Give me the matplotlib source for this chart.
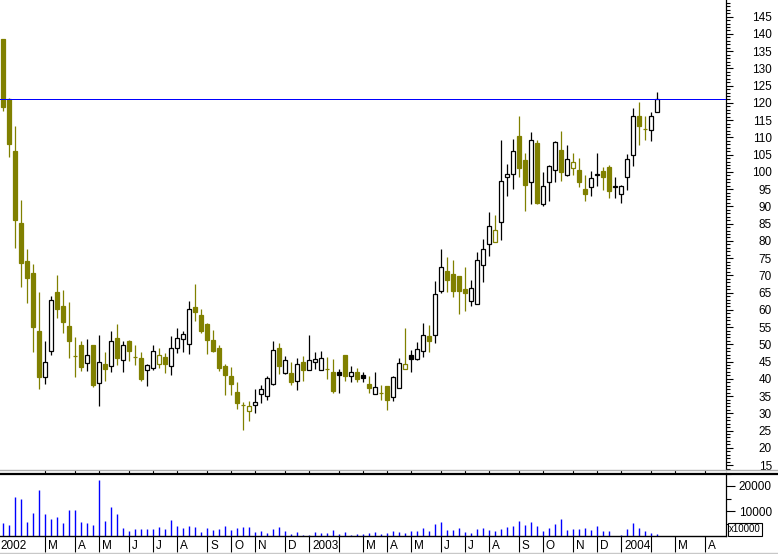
import numpy as np
import matplotlib
matplotlib.use("Agg")
import matplotlib.pyplot as plt
from matplotlib.patches import Rectangle
from matplotlib.lines import Line2D
from matplotlib.ticker import MultipleLocator, FixedLocator
import matplotlib.transforms as mtransforms

plt.rcParams['font.family'] = ['Liberation Sans', 'DejaVu Sans']

#### weekly bars ####
opens = [138.5, 121.1, 106.1, 85.2, 74.2, 70.7, 53.9, 40.6, 48.2, 65.2,
         61.1, 55.3, 46.7, 49.8, 44.5, 49.8, 38.7, 44.3, 43.8, 51.8,
         45.4, 51.0, 46.2, 46.0, 42.6, 43.1, 44.2, 46.3, 43.8, 48.9,
         51.5, 50.0, 60.8, 58.5, 55.9, 51.3, 48.9, 43.7, 40.8, 36.2,
         32.3, 30.6, 32.3, 35.5, 35.1, 38.4, 49.0, 41.6, 41.6, 39.3,
         44.8, 42.5, 44.8, 42.5, 42.8, 42.1, 42.1, 46.8, 40.7, 42.1,
         41.0, 38.5, 35.5, 35.8, 37.9, 34.7, 37.3, 42.8, 46.8, 45.8,
         48.0, 52.4, 52.6, 65.6, 71.3, 70.4, 69.8, 66.1, 62.7, 61.6,
         72.9, 79.0, 79.6, 85.4, 98.4, 99.3, 110.4, 103.5, 97.0, 108.4,
         90.6, 97.0, 100.5, 106.4, 99.0, 101.0, 100.6, 95.0, 95.5, 99.2,
         100.3, 101.3, 95.7, 93.5, 98.4, 104.8, 116.1, 112.5, 112.2, 117.5]
highs = [138.5, 121.5, 113.3, 91.9, 77.6, 73.3, 65.2, 51.1, 64.0, 70.1,
         65.8, 62.3, 52.2, 51.1, 51.6, 49.8, 52.7, 47.8, 53.9, 55.9,
         51.0, 51.2, 49.8, 47.8, 44.3, 49.8, 48.9, 47.4, 52.4, 54.7,
         53.9, 62.6, 67.5, 60.3, 56.3, 54.2, 49.8, 44.3, 43.3, 39.0,
         33.4, 33.6, 37.1, 38.2, 40.8, 51.0, 50.4, 46.5, 44.8, 46.0,
         46.6, 52.7, 47.7, 48.1, 46.3, 45.7, 42.9, 46.8, 43.6, 43.1,
         42.1, 40.8, 42.1, 38.2, 37.9, 40.8, 46.0, 54.7, 48.4, 50.6,
         56.2, 55.6, 68.4, 77.6, 75.3, 74.5, 69.8, 72.4, 68.7, 76.7,
         80.5, 88.3, 87.5, 109.3, 102.3, 109.5, 116.2, 105.5, 111.5, 109.3,
         100.0, 102.1, 109.1, 111.9, 107.8, 105.5, 103.9, 99.1, 100.3, 105.4,
         101.3, 102.0, 98.4, 96.1, 105.3, 118.6, 120.3, 116.2, 117.3, 123.2]
lows = [117.7, 104.4, 78.0, 66.7, 62.1, 47.9, 37.1, 38.5, 47.0, 57.7,
        53.4, 46.1, 40.6, 42.4, 42.4, 37.7, 32.2, 39.5, 42.1, 44.1,
        42.1, 45.3, 44.1, 39.5, 38.0, 42.6, 43.1, 41.8, 41.1, 47.6,
        47.9, 47.1, 56.9, 53.2, 47.1, 47.9, 42.4, 35.4, 35.4, 31.2,
        25.2, 27.9, 30.2, 33.1, 34.0, 38.2, 41.3, 41.3, 38.2, 36.7,
        39.3, 42.5, 42.8, 42.5, 40.0, 36.0, 36.0, 39.5, 39.2, 39.2,
        39.2, 36.0, 35.5, 34.0, 31.0, 33.7, 37.3, 42.8, 41.9, 45.6,
        46.3, 47.7, 50.3, 64.8, 65.3, 63.8, 58.8, 59.8, 61.2, 61.6,
        68.0, 75.7, 79.6, 80.3, 93.0, 95.1, 98.6, 88.8, 90.6, 90.6,
        90.2, 91.7, 97.0, 97.5, 98.8, 99.2, 95.7, 91.7, 93.0, 95.9,
        94.8, 92.4, 92.5, 90.9, 94.8, 101.8, 107.8, 109.3, 109.0, 117.5]
closes = [118.9, 108.1, 86.1, 73.7, 69.3, 55.1, 40.6, 44.8, 62.9, 60.3,
          56.6, 51.1, 46.7, 43.5, 46.8, 38.2, 44.8, 42.9, 50.9, 46.1,
          49.7, 48.2, 46.2, 40.0, 43.9, 48.1, 46.8, 44.4, 48.9, 51.8,
          52.9, 60.2, 59.5, 53.9, 51.3, 48.2, 43.2, 41.1, 38.5, 33.1,
          32.3, 32.1, 33.2, 37.0, 40.2, 48.4, 43.8, 45.4, 39.2, 44.2,
          42.7, 45.4, 45.7, 46.0, 42.8, 36.6, 41.2, 40.9, 42.1, 40.0,
          40.3, 37.4, 37.5, 35.8, 34.0, 40.4, 44.5, 44.4, 45.8, 48.6,
          52.6, 51.1, 64.6, 72.3, 68.7, 65.6, 65.4, 65.0, 66.3, 74.4,
          77.6, 84.2, 83.1, 97.3, 99.3, 106.1, 101.2, 96.3, 109.2, 91.0,
          95.8, 101.6, 108.6, 100.1, 103.8, 102.9, 97.0, 93.7, 98.1, 99.3,
          98.6, 94.6, 95.8, 95.9, 103.7, 116.1, 113.4, 112.4, 116.1, 121.1]
volumes = [5333, 4400, 15733, 14800, 5733, 9333, 18400, 8800, 6800, 7600,
           5333, 10400, 10400, 5733, 5333, 4400, 22400, 6000, 11600, 8933,
           3200, 2000, 2800, 2800, 2800, 2800, 3600, 2800, 6400, 4000,
           3200, 4000, 3600, 1600, 3200, 2400, 2800, 4000, 2400, 3200,
           3600, 3600, 1600, 2000, 1200, 2800, 3600, 2000, 800, 1600,
           400, 400, 1600, 1200, 1200, 2400, 800, 1600, 400, 800,
           800, 1200, 1600, 800, 1200, 2000, 1600, 1200, 2000, 2000,
           3200, 2000, 4800, 5600, 2400, 2400, 3200, 1600, 1200, 2800,
           3200, 2400, 2000, 2800, 3600, 4000, 6000, 4400, 5600, 4000,
           2000, 3200, 4800, 6800, 2400, 2800, 2800, 3200, 2400, 4000,
           2000, 2000, 100, 400, 2800, 5200, 3200, 2000, 1200, 800]
resistance = 121.2

# month boundaries (week index) and their labels, '' = tick only
month_pos = [-1, 7, 12, 16, 21, 25, 29, 34, 38, 42, 47, 51, 56, 60, 64,
             68, 73, 77, 81, 86, 90, 95, 99, 103, 108, 112, 117]
month_lab = ['2002', 'M', 'A', 'M', 'J', 'J', 'A', 'S', 'O', 'N', 'D', '2003', '',
             'M', 'A', 'M', 'J', 'J', 'A', 'S', 'O', 'N', 'D', '2004', '', 'M', 'A']

OLIVE = '#808000'
W, H = 778, 554
fig = plt.figure(figsize=(W / 100, H / 100), dpi=100)
fig.patch.set_facecolor('white')

x_right = 726
ax = fig.add_axes([0, 1 - 470 / H, x_right / W, 470 / H])
axv = fig.add_axes([0, 1 - 536 / H, x_right / W, (536 - 473.3) / H], sharex=ax)

xs = np.arange(len(closes))
ax.set_xlim(-0.55, 120.45)
ax.set_ylim(13.57, 149.84)

# candles: black if close above previous close, else olive
# filled body when close < open, hollow (white) otherwise
bw = 0.65
for i in xs:
    prev = closes[i - 1] if i > 0 else opens[i]
    col = 'black' if closes[i] > prev else OLIVE
    ax.vlines(i, lows[i], highs[i], color=col, lw=0.9, zorder=2)
    lo = min(opens[i], closes[i])
    hgt = abs(closes[i] - opens[i])
    face = col if closes[i] < opens[i] else 'white'
    ax.add_patch(Rectangle((i - bw / 2, lo), bw, hgt, facecolor=face,
                           edgecolor=col, lw=0.9, zorder=3))

ax.axhline(resistance, color='#0000ff', lw=0.72, zorder=4, antialiased=False)

for s in ['top', 'left', 'bottom']:
    ax.spines[s].set_visible(False)
ax.spines['right'].set_linewidth(0.9)
ax.set_xticks([])
ax.yaxis.tick_right()
ax.yaxis.set_major_locator(FixedLocator(np.arange(15, 150, 5)))
ax.yaxis.set_minor_locator(MultipleLocator(1))
ax.tick_params(axis='y', which='major', length=5, width=0.8, pad=28, labelsize=8.5)
ax.tick_params(axis='y', which='minor', length=2.8, width=0.8)
for lbl in ax.get_yticklabels():
    lbl.set_horizontalalignment('right')

# volume
axv.vlines(xs, 0, volumes, color='#0000ff', lw=1.0)
axv.set_ylim(0, 25080)
axv.spines['left'].set_visible(False)
axv.spines['top'].set_visible(False)
axv.spines['right'].set_linewidth(0.9)
axv.spines['bottom'].set_linewidth(1.0)
axv.yaxis.tick_right()
axv.yaxis.set_major_locator(FixedLocator([10000, 20000]))
axv.yaxis.set_minor_locator(FixedLocator([5000, 15000, 25000]))
axv.set_yticklabels(['10000', '20000'])
axv.tick_params(axis='y', which='major', length=6.5, width=0.8, pad=26.5, labelsize=8.5)
axv.tick_params(axis='y', which='minor', length=3.5, width=0.8)
for lbl in axv.get_yticklabels():
    lbl.set_horizontalalignment('right')

axv.set_xticks([p for p in month_pos if p >= 0])
axv.set_xticklabels([])
axv.tick_params(axis='x', length=11.5, width=0.8, direction='out')
trans = mtransforms.blended_transform_factory(axv.transData, axv.transAxes)
for p, lab in zip(month_pos, month_lab):
    if lab:
        axv.text(p + 0.45, -0.16, lab, transform=trans, ha='left', va='center',
                 fontsize=8.5, clip_on=False)

fig.text(729 / W, 1 - 529.5 / H, 'x10000', fontsize=7, ha='left', va='center',
         bbox=dict(boxstyle='square,pad=0.15', facecolor='white', edgecolor='black', lw=0.8))

# panel separators
fig.add_artist(Line2D([0, 1], [1 - 470 / H] * 2, color='#b0b0b0', lw=1.0))
fig.add_artist(Line2D([0, 1], [1 - 473.5 / H] * 2, color='black', lw=1.6))
fig.add_artist(Line2D([0, 1], [1 - 552.5 / H] * 2, color='#c8c8c8', lw=1.0))

fig.savefig('out.png', dpi=100, facecolor='white')
